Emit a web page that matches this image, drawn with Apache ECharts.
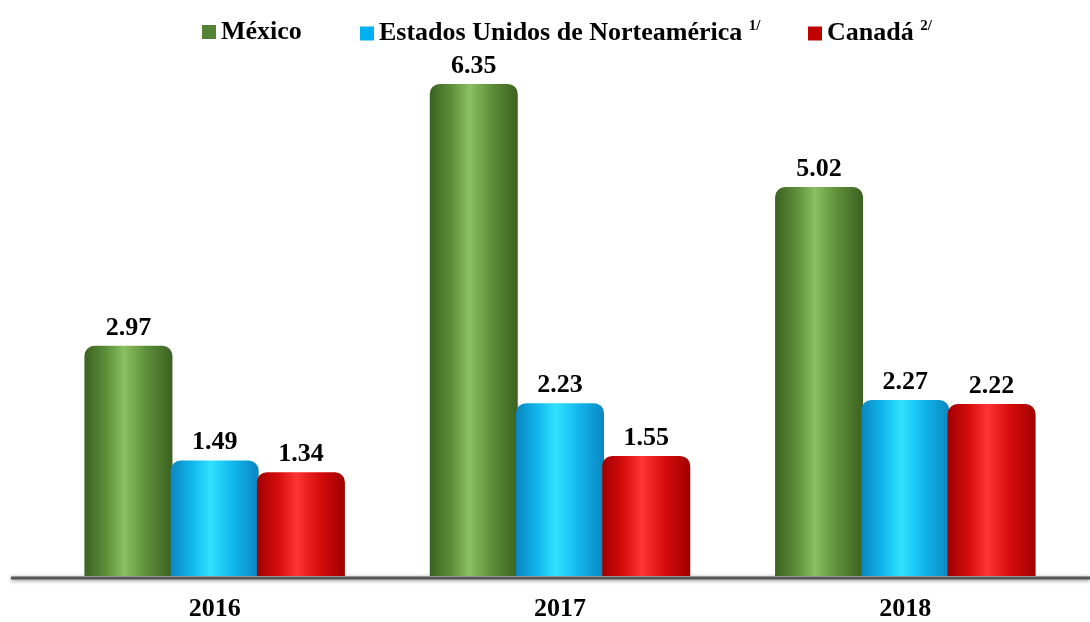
<!DOCTYPE html>
<html>
<head>
<meta charset="utf-8">
<script src="https://cdn.jsdelivr.net/npm/echarts@6/dist/echarts.min.js"></script>
<style>
  html, body { margin: 0; padding: 0; background: #fff; }
  #chart { width: 1090px; height: 622px; }
</style>
</head>
<body>
<div id="chart"></div>
<script>
// datos
var years = ['2016', '2017', '2018'];
var mexico = [2.97, 6.35, 5.02];
var eua = [1.49, 2.23, 2.27];
var canada = [1.34, 1.55, 2.22];

var serif = '"Liberation Serif", "DejaVu Serif", serif';

function cylinder (edge, mid, light) {
  return new echarts.graphic.LinearGradient(0, 0, 1, 0, [
    { offset: 0, color: edge },
    { offset: 0.25, color: mid },
    { offset: 0.45, color: light },
    { offset: 0.7, color: mid },
    { offset: 1, color: edge }
  ]);
}

function barSeries (name, data, color) {
  return {
    name: name,
    type: 'bar',
    data: data,
    barWidth: 88,
    barGap: '-2%',
    itemStyle: {
      color: color,
      borderRadius: [10, 10, 0, 0]
    },
    label: {
      show: true,
      position: 'top',
      distance: 5,
      formatter: function (p) { return p.value.toFixed(2); },
      fontFamily: serif,
      fontWeight: 'bold',
      fontSize: 26,
      color: '#000'
    }
  };
}

// one legend per item so each can sit where it is in the original
function legendItem (name, color, left, sup) {
  return {
    top: 14,
    left: left,
    itemWidth: 14,
    itemHeight: 14,
    itemGap: 0,
    icon: 'rect',
    data: [{ name: name, itemStyle: { color: color } }],
    formatter: function (n) {
      return sup ? n + ' {sup|' + sup + '}' : n;
    },
    textStyle: {
      fontFamily: serif,
      fontWeight: 'bold',
      fontSize: 26,
      color: '#000',
      rich: {
        sup: {
          fontFamily: serif,
          fontWeight: 'bold',
          fontSize: 15,
          color: '#000',
          verticalAlign: 'top',
          padding: [0, 0, 14, 0]
        }
      }
    }
  };
}

var myChart = echarts.init(document.getElementById('chart'));
myChart.setOption({
  animation: false,
  legend: [
    legendItem('México', '#548235', 197, null),
    legendItem('Estados Unidos de Norteamérica', '#00b0f0', 355, '1/'),
    legendItem('Canadá', '#c00000', 803, '2/')
  ],
  grid: {
    left: 42,
    right: 12,
    top: 18,
    bottom: 44
  },
  xAxis: {
    type: 'category',
    data: years,
    axisLine: { show: false },
    axisTick: { show: false },
    axisLabel: {
      margin: 20,
      fontFamily: serif,
      fontWeight: 'bold',
      fontSize: 26,
      color: '#000'
    }
  },
  yAxis: {
    type: 'value',
    min: 0,
    max: 7.2,
    show: false,
    splitLine: { show: false }
  },
  graphic: [
    {
      type: 'line',
      z: 0,
      shape: { x1: 11, y1: 578, x2: 1090, y2: 578 },
      style: {
        stroke: '#555',
        lineWidth: 3,
        shadowBlur: 4,
        shadowColor: 'rgba(0,0,0,0.5)',
        shadowOffsetY: 1
      }
    }
  ],
  series: [
    barSeries('México', mexico, cylinder('#3b6120', '#5e8f3a', '#8cc063')),
    barSeries('Estados Unidos de Norteamérica', eua, cylinder('#0a86c0', '#12b8ee', '#30e2ff')),
    barSeries('Canadá', canada, cylinder('#a00000', '#d80d0d', '#ff3333'))
  ]
});
</script>
</body>
</html>
